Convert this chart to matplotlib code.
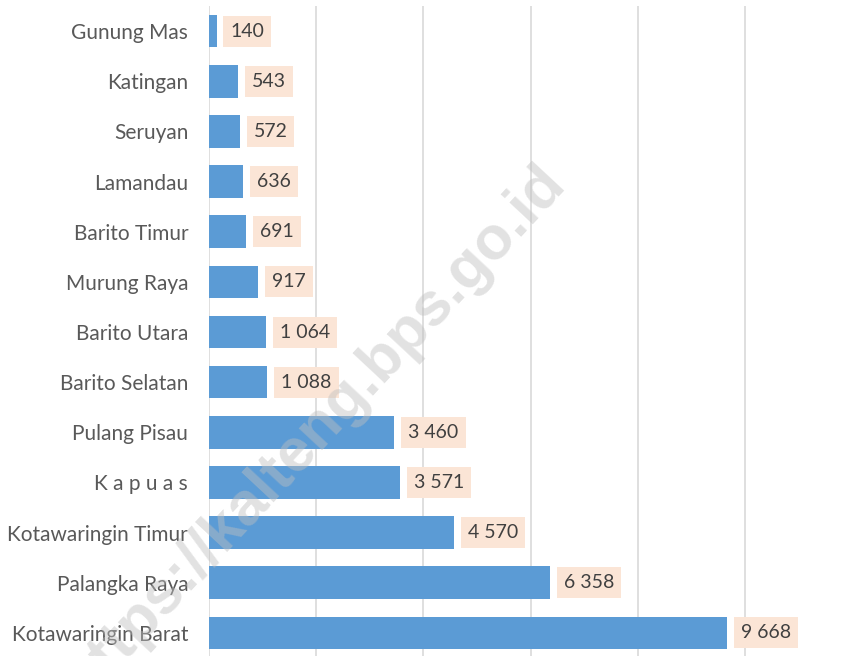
import matplotlib.pyplot as plt

# data (top to bottom as shown)
regions = ["Gunung Mas", "Katingan", "Seruyan", "Lamandau", "Barito Timur",
           "Murung Raya", "Barito Utara", "Barito Selatan", "Pulang Pisau",
           "K a p u a s", "Kotawaringin Timur", "Palangka Raya", "Kotawaringin Barat"]
values = [140, 543, 572, 636, 691, 917, 1064, 1088, 3460, 3571, 4570, 6358, 9668]
ticks = [0, 2000, 4000, 6000, 8000, 10000, 12000]

plt.rcParams['font.family'] = ['Lato', 'DejaVu Sans']

fig = plt.figure(figsize=(8.5, 6.56), dpi=100)
ax = fig.add_axes([209 / 850, -2 / 656, 643 / 850, 652 / 656])

ypos = list(range(len(regions)))
ax.barh(ypos, values, height=0.65, color='#5b9bd5', zorder=2)

for y, v in zip(ypos, values):
    lab = f"{v:,}".replace(",", " ")
    ax.annotate(lab, (v, y), xytext=(10, 0), textcoords='offset points',
                ha='left', va='center', fontsize=14, color='#404040', zorder=4,
                bbox=dict(boxstyle='square,pad=0.36', fc='#fbe5d6', ec='none'))

ax.set_xlim(0, 12000)
ax.set_ylim(len(regions) - 0.5, -0.5)
ax.set_xticks(ticks)
ax.set_xticklabels([])
ax.tick_params(axis='x', length=0)
ax.tick_params(axis='y', length=0, pad=15, labelsize=15, labelcolor='#595959')
ax.set_yticks(ypos)
ax.set_yticklabels(regions)
ax.grid(axis='x', color='#d9d9d9', linewidth=1.2, zorder=0)
ax.set_axisbelow(True)
for s in ax.spines.values():
    s.set_visible(False)

# watermark
fig.text(0.37, 0.342, "https://kalteng.bps.go.id", rotation=47, fontsize=44,
         fontweight='bold', family='Liberation Sans', color='#bfbfbf', alpha=0.45,
         ha='center', va='center', zorder=10)

fig.savefig("out.png", dpi=100)
